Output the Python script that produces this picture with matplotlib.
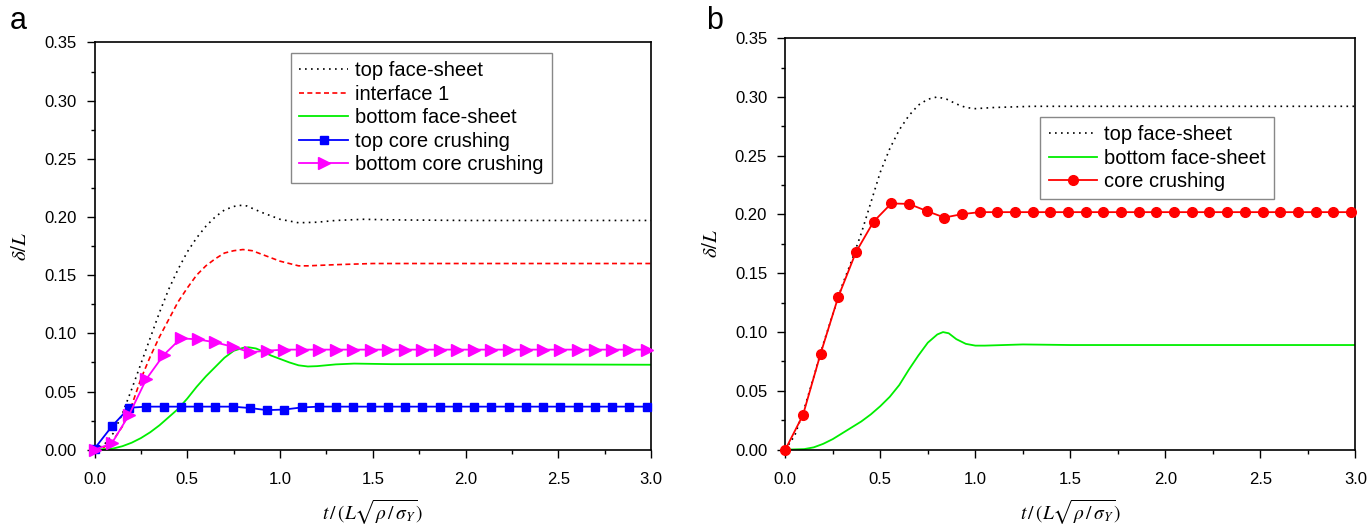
import matplotlib
matplotlib.use("Agg")
import matplotlib.pyplot as plt
from matplotlib.ticker import MultipleLocator, FormatStrFormatter

plt.rcParams['font.family'] = ['Liberation Sans', 'DejaVu Sans']
plt.rcParams['mathtext.fontset'] = 'stix'

# --- time samples where the crushing markers sit ---
t_mark = [0.0, 0.093, 0.186, 0.279, 0.372, 0.465, 0.558, 0.651, 0.744, 0.837,
          0.93, 1.023, 1.116, 1.209, 1.302, 1.395, 1.488, 1.581, 1.674, 1.767,
          1.86, 1.953, 2.046, 2.139, 2.232, 2.325, 2.418, 2.511, 2.604, 2.697,
          2.79, 2.883, 2.976]

# --- panel a ---
a_top_t = [0.0, 0.05, 0.1, 0.15, 0.2, 0.25, 0.3, 0.35, 0.4, 0.45, 0.5, 0.55, 0.6,
           0.65, 0.7, 0.75, 0.78, 0.82, 0.9, 1.0, 1.1, 1.2, 1.3, 1.45, 1.6, 2.0, 3.0]
a_top = [0.0, 0.004, 0.014, 0.031, 0.052, 0.074, 0.096, 0.118, 0.138, 0.155, 0.170,
         0.182, 0.192, 0.200, 0.206, 0.209, 0.210, 0.2095, 0.204, 0.198, 0.195,
         0.1955, 0.197, 0.198, 0.1975, 0.197, 0.197]

a_int_t = [0.0, 0.05, 0.1, 0.15, 0.2, 0.25, 0.3, 0.35, 0.4, 0.45, 0.5, 0.55, 0.6,
           0.65, 0.7, 0.75, 0.8, 0.85, 0.9, 1.0, 1.1, 1.15, 1.3, 1.5, 2.0, 3.0]
a_int = [0.0, 0.002, 0.008, 0.020, 0.038, 0.061, 0.080, 0.097, 0.112, 0.127, 0.139,
         0.150, 0.158, 0.164, 0.169, 0.171, 0.172, 0.171, 0.168, 0.162, 0.158, 0.158,
         0.159, 0.160, 0.160, 0.160]

a_bot_t = [0.0, 0.1, 0.15, 0.2, 0.25, 0.3, 0.35, 0.4, 0.45, 0.5, 0.55, 0.6, 0.65,
           0.7, 0.75, 0.8, 0.83, 0.87, 0.9, 0.95, 1.0, 1.05, 1.1, 1.15, 1.2, 1.3,
           1.4, 1.6, 2.0, 3.0]
a_bot = [0.0, 0.001, 0.003, 0.006, 0.010, 0.015, 0.021, 0.028, 0.035, 0.044, 0.054,
         0.063, 0.071, 0.079, 0.085, 0.0875, 0.088, 0.087, 0.085, 0.081, 0.078,
         0.075, 0.0725, 0.0715, 0.0718, 0.0733, 0.074, 0.0735, 0.0735, 0.073]

a_top_core = [0.001, 0.020, 0.036, 0.037, 0.037, 0.037, 0.037, 0.037, 0.037, 0.0358,
              0.034, 0.0345, 0.0363] + [0.037] * 20
a_bot_core = [0.0, 0.0055, 0.030, 0.0607, 0.0813, 0.0957, 0.0948, 0.0922, 0.0885,
              0.0837, 0.0851] + [0.086] * 22

# --- panel b ---
b_top_t = [0.0, 0.05, 0.1, 0.15, 0.2, 0.25, 0.3, 0.35, 0.4, 0.45, 0.5, 0.55, 0.6,
           0.65, 0.7, 0.75, 0.8, 0.85, 0.9, 0.95, 1.0, 1.1, 1.3, 2.0, 3.0]
b_top = [0.0, 0.012, 0.035, 0.062, 0.090, 0.115, 0.140, 0.161, 0.184, 0.210, 0.236,
         0.256, 0.272, 0.284, 0.293, 0.298, 0.300, 0.298, 0.294, 0.291, 0.290,
         0.291, 0.292, 0.292, 0.292]

b_bot_t = [0.0, 0.1, 0.15, 0.2, 0.25, 0.3, 0.35, 0.4, 0.45, 0.5, 0.55, 0.6, 0.65,
           0.7, 0.75, 0.8, 0.83, 0.86, 0.9, 0.95, 1.0, 1.05, 1.25, 1.5, 2.0, 3.0]
b_bot = [0.0, 0.0005, 0.002, 0.005, 0.009, 0.014, 0.019, 0.024, 0.030, 0.037, 0.045,
         0.055, 0.068, 0.080, 0.091, 0.098, 0.100, 0.099, 0.094, 0.090, 0.0885,
         0.0885, 0.0895, 0.089, 0.089, 0.089]

b_core = [0.0, 0.0294, 0.0817, 0.130, 0.168, 0.194, 0.2094, 0.209, 0.203, 0.1974,
          0.2003] + [0.202] * 22

XLABEL = r'$t\,/\,(L\sqrt{\rho\,/\,\sigma_Y})$'
YLABEL = r'$\delta/L$'

GREEN = '#00ee00'
DOTS = (0, (1, 2.6))
DASH = (0, (3, 2))
LEGEND_KW = dict(loc='upper left', fontsize=14.5, frameon=True, fancybox=False,
                 edgecolor='#888888', framealpha=1, handlelength=2.4,
                 handletextpad=0.35, labelspacing=0.22, borderpad=0.42,
                 borderaxespad=0)


def style_axes(ax):
    ax.set_xlim(0, 3.0)
    ax.set_ylim(0, 0.35)
    ax.xaxis.set_major_locator(MultipleLocator(0.5))
    ax.xaxis.set_minor_locator(MultipleLocator(0.25))
    ax.yaxis.set_major_locator(MultipleLocator(0.05))
    ax.yaxis.set_minor_locator(MultipleLocator(0.025))
    ax.xaxis.set_major_formatter(FormatStrFormatter('%.1f'))
    ax.yaxis.set_major_formatter(FormatStrFormatter('%.2f'))
    ax.tick_params(which='both', direction='out', top=False, right=False,
                   width=1.0, labelsize=12)
    ax.tick_params(which='major', length=6)
    ax.tick_params(which='minor', length=3)
    ax.tick_params(axis='x', which='major', pad=10)
    ax.tick_params(axis='y', which='major', pad=7)
    for sp in ax.spines.values():
        sp.set_linewidth(1.2)
    ax.set_xlabel(XLABEL, fontsize=14, labelpad=8)
    ax.set_ylabel(YLABEL, fontsize=15, labelpad=10)


fig = plt.figure(figsize=(13.69, 5.27), dpi=100)
ax_a = fig.add_axes([0.0691, 0.1467, 0.4064, 0.7728])
ax_b = fig.add_axes([0.5736, 0.1467, 0.4165, 0.781])

# panel a
ax_a.plot(a_top_t, a_top, color='black', lw=1.2, ls=DOTS, label='top face-sheet')
ax_a.plot(a_int_t, a_int, color='red', lw=1.2, ls=DASH, label='interface 1')
ax_a.plot(a_bot_t, a_bot, color=GREEN, lw=1.3, label='bottom face-sheet')
ax_a.plot(t_mark, a_top_core, color='#0000ff', lw=1.3, marker='s', ms=6,
          label='top core crushing', clip_on=False, zorder=4)
ax_a.plot(t_mark, a_bot_core, color='#ff00ff', lw=1.3, marker='>', ms=8,
          label='bottom core crushing', clip_on=False, zorder=4)
style_axes(ax_a)
ax_a.legend(bbox_to_anchor=(0.353, 0.974), **LEGEND_KW)

# panel b
ax_b.plot(b_top_t, b_top, color='black', lw=1.2, ls=DOTS, label='top face-sheet')
ax_b.plot(b_bot_t, b_bot, color=GREEN, lw=1.3, label='bottom face-sheet')
ax_b.plot(t_mark, b_core, color='red', lw=1.3, marker='o', ms=7,
          label='core crushing', clip_on=False, zorder=4)
style_axes(ax_b)
ax_b.legend(bbox_to_anchor=(0.447, 0.809), **LEGEND_KW)

fig.text(0.007, 0.945, 'a', fontsize=22)
fig.text(0.516, 0.945, 'b', fontsize=22)

fig.savefig('out.png', dpi=100)
